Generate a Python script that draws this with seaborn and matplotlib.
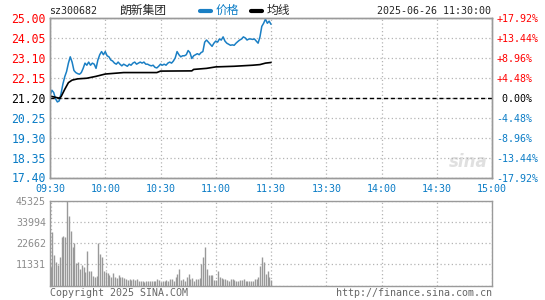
import numpy as np
import pandas as pd
import matplotlib
matplotlib.use('Agg')
import matplotlib.pyplot as plt
from matplotlib.lines import Line2D
import seaborn as sns

# minute index from 09:30 (0) to 11:30 (120)
minutes = list(range(121))
price = [21.30, 21.56, 21.45, 21.15, 21.00, 21.05, 21.40, 21.85, 22.20, 22.45,
         22.85, 23.15, 22.90, 22.50, 22.40, 22.35, 22.32, 22.40, 22.60, 22.85,
         22.75, 22.90, 22.75, 22.85, 22.80, 22.60, 23.00, 23.25, 23.40, 23.25,
         23.40, 23.20, 23.15, 23.00, 22.95, 22.85, 22.80, 22.90, 22.80, 22.72,
         22.80, 22.75, 22.70, 22.80, 22.75, 22.85, 22.90, 22.80, 22.85, 22.90,
         22.85, 22.90, 22.80, 22.80, 22.75, 22.72, 22.75, 22.65, 22.62, 22.70,
         22.80, 22.75, 22.80, 22.75, 22.85, 22.90, 22.85, 22.95, 23.10, 23.40,
         23.25, 23.15, 23.20, 23.20, 23.25, 23.45, 23.35, 23.07, 23.20, 23.25,
         23.30, 23.25, 23.35, 23.40, 23.85, 23.95, 23.85, 23.75, 23.65, 23.80,
         23.90, 23.85, 24.00, 23.95, 24.10, 23.90, 23.80, 23.75, 23.70, 23.72,
         23.70, 23.80, 23.88, 23.95, 24.00, 24.10, 24.05, 23.95, 24.00, 24.00,
         23.98, 24.00, 23.90, 23.80, 24.10, 24.60, 24.75, 24.95, 24.75, 24.85,
         24.70]

avg_min = [0, 3, 5, 6, 8, 10, 12, 15, 20, 25, 30, 40, 58, 60, 77, 78, 85, 90,
           100, 110, 114, 117, 120]
avg_val = [21.28, 21.22, 21.18, 21.25, 21.60, 21.92, 22.04, 22.10, 22.13, 22.22,
           22.33, 22.40, 22.40, 22.47, 22.48, 22.55, 22.60, 22.67, 22.70, 22.75,
           22.78, 22.85, 22.88]

volume = [9800, 28800, 16200, 12600, 11000, 15300, 26000, 26500, 26000, 45325,
          37400, 29000, 20500, 22800, 12200, 12700, 8800, 10900, 10000, 7400,
          18600, 7900, 7900, 5000, 4700, 5000, 22600, 16800, 15400, 7900,
          7400, 6500, 5600, 4300, 6800, 4700, 3800, 5550, 4300, 4660,
          3760, 3580, 2870, 3580, 2870, 3220, 2870, 3220, 2510, 2330,
          2150, 1970, 2330, 2150, 2510, 2150, 2510, 2330, 3220, 2870,
          1970, 2510, 2150, 2870, 2510, 3580, 3220, 2510, 4660, 6090,
          8600, 2870, 3400, 2510, 4660, 6090, 3220, 4120, 2510, 3220,
          3220, 3760, 11470, 15400, 20780, 8600, 5550, 5370, 5550, 2870,
          2870, 7880, 4660, 4120, 3580, 3220, 2870, 2510, 3220, 3580,
          2870, 2510, 2330, 2690, 2870, 3400, 2330, 2150, 2330, 2150,
          2510, 3220, 3580, 4300, 10390, 15400, 12720, 5910, 7880, 4660,
          2870]

price_ticks = [17.40, 18.35, 19.30, 20.25, 21.20, 22.15, 23.10, 24.05, 25.00]
pct_labels = ['-17.92%', '-13.44%', '-8.96%', '-4.48%', ' 0.00%',
              '+4.48%', '+8.96%', '+13.44%', '+17.92%']
time_ticks = [0, 30, 60, 90, 120, 150, 180, 210, 240]
time_labels = ['09:30', '10:00', '10:30', '11:00', '11:30',
               '13:30', '14:00', '14:30', '15:00']
vol_ticks = [0, 11331, 22662, 33994, 45325]
prev_close = 21.20

RED = '#ff0000'
BLUE = '#0a7cc6'
LINE_BLUE = '#1a7fc4'
GRID = '#b4b4b4'
SPINE = '#9a9a9a'

sns.set_style('white')
plt.rcParams['font.family'] = ['DejaVu Sans Mono', 'Noto Sans CJK SC']

W, H = 545, 300
fig = plt.figure(figsize=(W / 100, H / 100), dpi=100)
ax = fig.add_axes([50 / W, 1 - 177.5 / H, 442 / W, 159.5 / H])
axv = fig.add_axes([50 / W, 1 - 285.5 / H, 442 / W, 84.5 / H])

# ---- price panel
df = pd.DataFrame({'minute': minutes, 'price': price})
dfa = pd.DataFrame({'minute': avg_min, 'avg': avg_val})
sns.lineplot(data=df, x='minute', y='price', color=LINE_BLUE, lw=1.1, ax=ax)
sns.lineplot(data=dfa, x='minute', y='avg', color='black', lw=1.2, ax=ax)
ax.axhline(prev_close, color='black', lw=1, ls=(0, (3, 2)), zorder=3)

ax.set_xlim(0, 240)
ax.set_ylim(price_ticks[0], price_ticks[-1])
ax.set_xticks(time_ticks)
ax.set_xticklabels([])
ax.set_yticks(price_ticks)
ax.set_yticklabels(['%.2f' % v for v in price_ticks], fontsize=8.3)
for lab, v in zip(ax.get_yticklabels(), price_ticks):
    lab.set_color(RED if v > prev_close else ('black' if v == prev_close else BLUE))
ax.tick_params(length=0, pad=3)
ax.set_xlabel('')
ax.set_ylabel('')
ax.grid(True, color=GRID, ls=(0, (1, 2)), lw=0.9)

twin = ax.twinx()
twin.set_ylim(price_ticks[0], price_ticks[-1])
twin.set_yticks(price_ticks)
twin.set_yticklabels(pct_labels, fontsize=7.2)
for lab, v in zip(twin.get_yticklabels(), price_ticks):
    lab.set_color(RED if v > prev_close else ('black' if v == prev_close else BLUE))
twin.tick_params(length=0, pad=3)

for a in (ax, twin):
    for s in a.spines.values():
        s.set_color(SPINE)
        s.set_linewidth(1)

# ---- volume panel
axv.vlines(minutes, 0, volume, color='#999999', lw=1.0)
axv.set_xlim(-0.3, 240)
axv.set_ylim(0, vol_ticks[-1])
axv.xaxis.tick_top()
axv.set_xticks(time_ticks)
axv.set_xticklabels(time_labels, fontsize=7.2, color=BLUE)
axv.set_yticks(vol_ticks)
axv.set_yticklabels([''] + [str(v) for v in vol_ticks[1:]], fontsize=7.2, color='#8c8c8c')
axv.tick_params(length=0, pad=3)
axv.tick_params(axis='x', pad=5)
axv.grid(True, color=GRID, ls=(0, (1, 2)), lw=0.9)
for s in axv.spines.values():
    s.set_color(SPINE)
    s.set_linewidth(1)

# ---- header
ty = 1 - 10.5 / H
fig.text(49 / W, ty, 'sz300682', fontsize=7.2, va='center', ha='left')
fig.text(119 / W, ty, '朗新集团', fontsize=8.5, va='center', ha='left',
         family=['Noto Sans CJK SC', 'DejaVu Sans'])
fig.add_artist(Line2D([200 / W, 211 / W], [ty, ty], color=LINE_BLUE, lw=3))
fig.text(216 / W, ty, '价格', fontsize=8.5, va='center', ha='left', color=BLUE,
         family=['Noto Sans CJK SC', 'DejaVu Sans'])
fig.add_artist(Line2D([251 / W, 262 / W], [ty, ty], color='black', lw=3))
fig.text(267 / W, ty, '均线', fontsize=8.5, va='center', ha='left',
         family=['Noto Sans CJK SC', 'DejaVu Sans'])
fig.text(491 / W, ty, '2025-06-26 11:30:00', fontsize=7.2, va='center', ha='right')

# ---- watermark and footer
ax.text(0.99, 0.1, 'sina', transform=ax.transAxes, ha='right', va='center',
        fontsize=12, style='italic', weight='bold', color='#e0e0e0',
        family='DejaVu Sans', zorder=0)
fy = 1 - 292.5 / H
fig.text(50 / W, fy, 'Copyright 2025 SINA.COM', fontsize=7.2, color='#666666',
         va='center', ha='left')
fig.text(492 / W, fy, 'http://finance.sina.com.cn', fontsize=7.2, color='#666666',
         va='center', ha='right')

fig.savefig('out.png', dpi=100, facecolor='white')
